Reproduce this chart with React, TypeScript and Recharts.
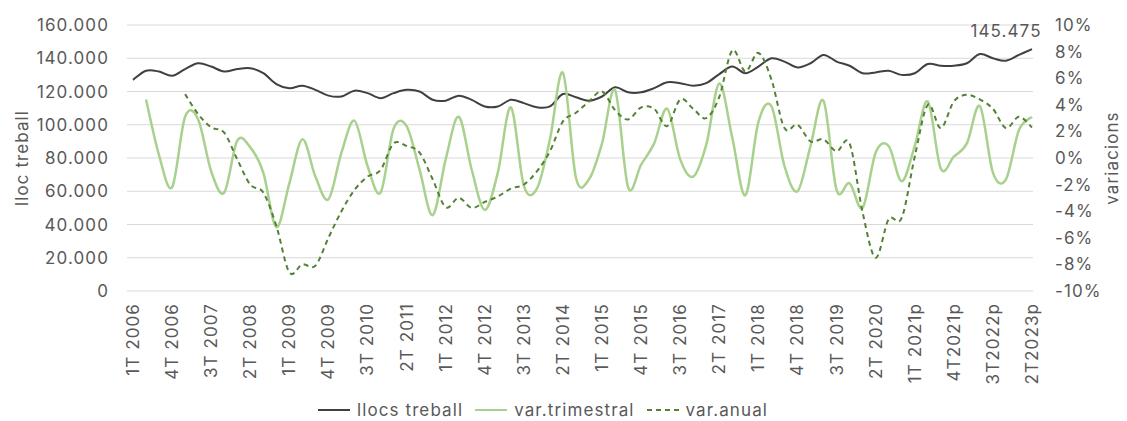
import {
  CartesianGrid,
  ComposedChart,
  Legend,
  Line,
  XAxis,
  YAxis,
} from 'recharts';

// quarters 1T 2006 .. 2T 2023 (p = provisional)
const quarters = [
  '1T 2006', '2T 2006', '3T 2006', '4T 2006',
  '1T 2007', '2T 2007', '3T 2007', '4T 2007',
  '1T 2008', '2T 2008', '3T 2008', '4T 2008',
  '1T 2009', '2T 2009', '3T 2009', '4T 2009',
  '1T 2010', '2T 2010', '3T 2010', '4T 2010',
  '1T 2011', '2T 2011', '3T 2011', '4T 2011',
  '1T 2012', '2T 2012', '3T 2012', '4T 2012',
  '1T 2013', '2T 2013', '3T 2013', '4T 2013',
  '1T 2014', '2T 2014', '3T 2014', '4T 2014',
  '1T 2015', '2T 2015', '3T 2015', '4T 2015',
  '1T 2016', '2T 2016', '3T 2016', '4T 2016',
  '1T 2017', '2T 2017', '3T 2017', '4T 2017',
  '1T 2018', '2T 2018', '3T 2018', '4T 2018',
  '1T 2019', '2T 2019', '3T 2019', '4T 2019',
  '1T 2020', '2T 2020', '3T 2020', '4T 2020',
  '1T 2021p', '2T 2021p', '3T 2021p', '4T2021p',
  '1T2022p', '2T2022p', '3T2022p', '4T2022p',
  '1T2023p', '2T2023p',
];

const llocsTreball = [
  127000, 132500, 132000, 129500, 133500, 137000, 135000, 132000, 133500, 134000,
  131000, 124500, 122000, 123500, 121000, 117500, 117000, 120500, 119000, 116000,
  119000, 121000, 120000, 115000, 114500, 117500, 115000, 111000, 111000, 115000,
  113000, 110500, 111000, 118500, 116500, 114500, 117000, 122500, 119500, 119500,
  122000, 125500, 125000, 123500, 125000, 130500, 135000, 131000, 135000, 140000,
  138000, 134500, 137000, 142000, 138000, 135500, 131000, 131500, 132500, 130000,
  131000, 136500, 135500, 135500, 137000, 142500, 140000, 138500, 142000, 145475,
];

// variació trimestral, %
const varTrimestral = [
  null, 4.4, 0.2, -2.2, 3.1, 2.9, -1.0, -2.6, 1.3, 0.8,
  -1.1, -5.2, -1.9, 1.4, -1.4, -3.1, 0.4, 2.8, -0.6, -2.6,
  2.2, 2.4, -0.9, -4.3, -0.1, 3.1, -0.9, -3.9, -1.1, 3.8,
  -2.1, -2.3, 1.4, 6.4, -1.5, -1.6, 1.1, 5.1, -2.2, -0.5,
  1.1, 3.7, -0.1, -1.4, 1.0, 5.6, 1.5, -2.8, 2.7, 3.9,
  -0.6, -2.5, 0.9, 4.3, -2.4, -1.9, -3.75, 0.4, 0.9, -1.75,
  0.9, 4.25, -0.8, 0.1, 1.1, 3.9, -1.1, -1.6, 2.1, 3.1,
];

// variació anual, %
const varAnual = [
  null, null, null, null, 4.8, 3.3, 2.3, 1.9, -0.1, -2.0,
  -2.6, -5.1, -8.6, -8.0, -8.1, -6.0, -4.0, -2.4, -1.4, -0.9,
  1.1, 0.9, 0.4, -1.6, -3.7, -3.0, -3.75, -3.3, -2.9, -2.3,
  -2.0, -1.0, 0.5, 2.75, 3.4, 4.25, 5.0, 3.6, 2.9, 3.8,
  3.7, 2.4, 4.4, 3.7, 3.0, 4.6, 8.1, 6.5, 7.9, 5.9,
  2.25, 2.5, 1.25, 1.4, 0.5, 1.1, -4.1, -7.5, -4.6, -4.5,
  0.1, 4.0, 2.25, 4.25, 4.75, 4.4, 3.7, 2.25, 3.1, 2.3,
];

const leftTicks = [0, 20000, 40000, 60000, 80000, 100000, 120000, 140000, 160000];
const rightTicks = [-10, -8, -6, -4, -2, 0, 2, 4, 6, 8, 10];

const data = quarters.map((q, i) => ({
  q,
  llocs: llocsTreball[i],
  trim: varTrimestral[i],
  anual: varAnual[i],
}));

const TEXT = '#595959';
const FONT = 17;

const thousands = (v: number) => String(v).replace(/\B(?=(\d{3})+(?!\d))/g, '.');

// excel-like smoothed line (catmull-rom through the points)
const excelSmooth = (context: any) => {
  let pts: number[][] = [];
  return {
    areaStart() {},
    areaEnd() {},
    lineStart() {
      pts = [];
    },
    point(x: number, y: number) {
      pts.push([+x, +y]);
    },
    lineEnd() {
      const n = pts.length;
      if (!n) return;
      context.moveTo(pts[0][0], pts[0][1]);
      for (let i = 0; i < n - 1; i++) {
        const p0 = pts[Math.max(i - 1, 0)];
        const p1 = pts[i];
        const p2 = pts[i + 1];
        const p3 = pts[Math.min(i + 2, n - 1)];
        context.bezierCurveTo(
          p1[0] + (p2[0] - p0[0]) / 6,
          p1[1] + (p2[1] - p0[1]) / 6,
          p2[0] - (p3[0] - p1[0]) / 6,
          p2[1] - (p3[1] - p1[1]) / 6,
          p2[0],
          p2[1],
        );
      }
    },
  };
};

const QuarterTick = ({ x, y, payload }: any) => (
  <text
    x={x}
    y={y}
    transform={`rotate(-90, ${x}, ${y})`}
    textAnchor="end"
    dy="0.35em"
    fill={TEXT}
    fontSize={FONT}
  >
    {payload.value}
  </text>
);

const LastValueLabel = ({ x, y, value }: any) =>
  value === llocsTreball[llocsTreball.length - 1] ? (
    <text x={x - 26} y={y - 12} textAnchor="middle" fill={TEXT} fontSize={FONT}>
      {thousands(value)}
    </text>
  ) : null;

const legendItems = [
  { name: 'llocs treball', color: '#404040', dash: undefined },
  { name: 'var.trimestral', color: '#a9d18e', dash: undefined },
  { name: 'var.anual', color: '#548235', dash: '5 4' },
];

const ChartLegend = () => (
  <div
    style={{
      display: 'flex',
      alignItems: 'center',
      height: 22,
      paddingLeft: 310,
      fontSize: FONT,
      color: TEXT,
    }}
  >
    {legendItems.map((item) => (
      <div key={item.name} style={{ display: 'flex', alignItems: 'center', marginRight: 12 }}>
        <svg width={32} height={10} style={{ marginRight: 7 }}>
          <line
            x1={0}
            y1={5}
            x2={32}
            y2={5}
            stroke={item.color}
            strokeWidth={2}
            strokeDasharray={item.dash}
          />
        </svg>
        <span>{item.name}</span>
      </div>
    ))}
  </div>
);

export default function App() {
  return (
    <div style={{ fontFamily: 'Inter, sans-serif', letterSpacing: '1.1px' }}>
      <ComposedChart
        width={1119}
        height={413}
        data={data}
        margin={{ top: 17, right: 0, bottom: 0, left: 4 }}
      >
        <CartesianGrid yAxisId="left" vertical={false} stroke="#d9d9d9" />
        <XAxis
          dataKey="q"
          interval={2}
          height={108}
          axisLine={false}
          tickLine={false}
          tickSize={0}
          tickMargin={12}
          padding={{ left: 6, right: 1 }}
          tick={<QuarterTick />}
        />
        <YAxis
          yAxisId="left"
          width={115}
          domain={[0, 160000]}
          ticks={leftTicks}
          tickFormatter={thousands}
          axisLine={false}
          tickLine={false}
          tickSize={0}
          tickMargin={18}
          tick={{ fill: TEXT, fontSize: FONT }}
          label={{
            value: 'lloc treball',
            angle: -90,
            position: 'insideLeft',
            offset: 10,
            style: { textAnchor: 'middle', fill: TEXT, fontSize: FONT },
          }}
        />
        <YAxis
          yAxisId="right"
          orientation="right"
          width={94}
          domain={[-10, 10]}
          ticks={rightTicks}
          tickFormatter={(v) => `${v}%`}
          axisLine={false}
          tickLine={false}
          tickSize={0}
          tickMargin={22}
          tick={{ fill: TEXT, fontSize: FONT, textAnchor: 'start' }}
          label={{
            value: 'variacions',
            angle: -90,
            position: 'insideRight',
            offset: 15,
            style: { textAnchor: 'middle', fill: TEXT, fontSize: FONT },
          }}
        />
        <Legend
          verticalAlign="bottom"
          height={22}
          wrapperStyle={{ left: 0, width: 1119 }}
          content={<ChartLegend />}
        />
        <Line
          yAxisId="left"
          dataKey="llocs"
          name="llocs treball"
          type={excelSmooth as any}
          stroke="#404040"
          strokeWidth={2}
          dot={false}
          isAnimationActive={false}
          label={<LastValueLabel />}
        />
        <Line
          yAxisId="right"
          dataKey="trim"
          name="var.trimestral"
          type={excelSmooth as any}
          stroke="#a9d18e"
          strokeWidth={2.5}
          dot={false}
          isAnimationActive={false}
        />
        <Line
          yAxisId="right"
          dataKey="anual"
          name="var.anual"
          type={excelSmooth as any}
          stroke="#548235"
          strokeWidth={2}
          strokeDasharray="5 4"
          dot={false}
          isAnimationActive={false}
        />
      </ComposedChart>
    </div>
  );
}
